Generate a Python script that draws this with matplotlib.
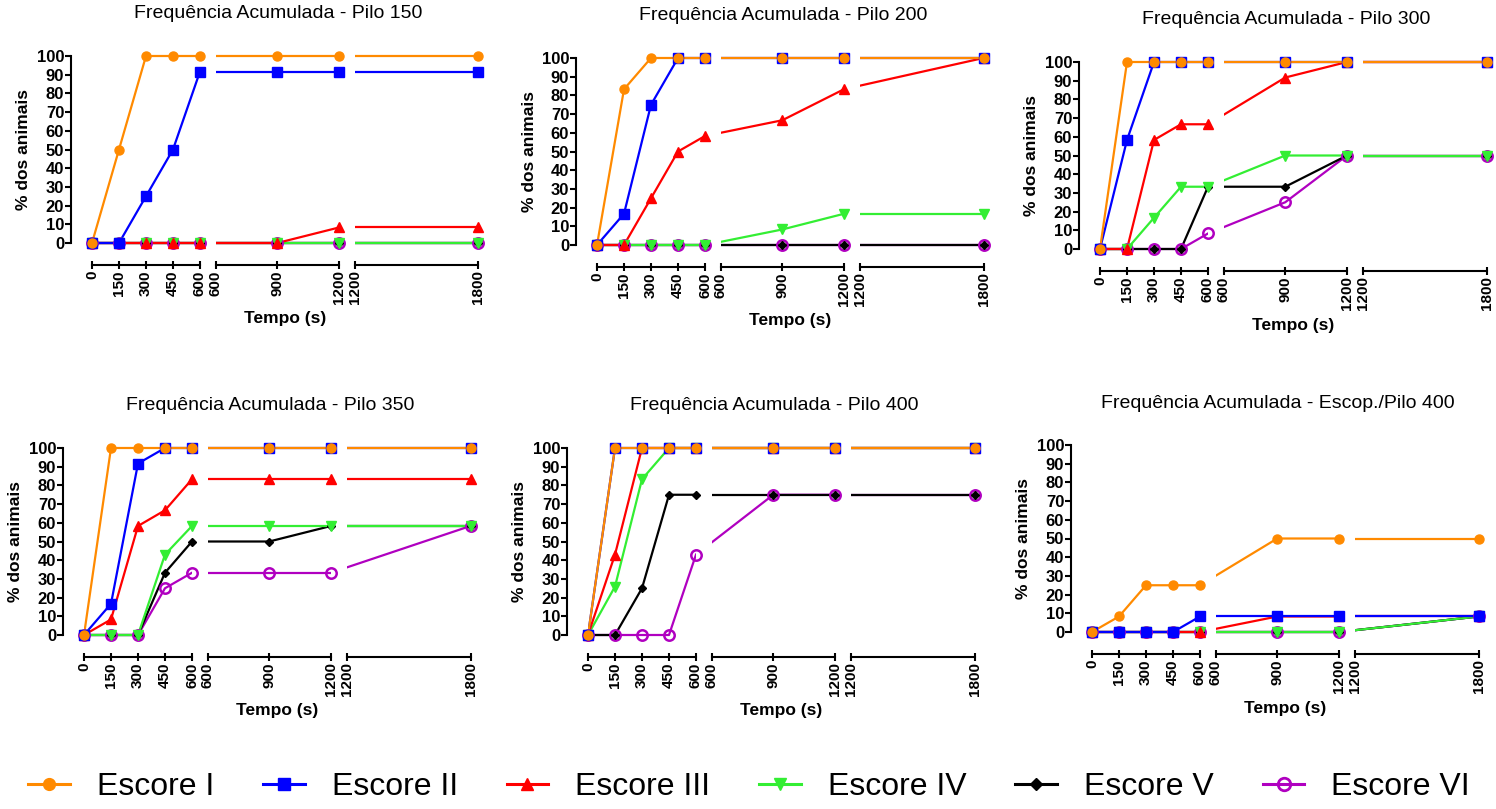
import matplotlib
matplotlib.use("Agg")
import matplotlib.pyplot as plt
from matplotlib.lines import Line2D

plt.rcParams['font.family'] = ['Liberation Sans', 'DejaVu Sans']

# time points (s)
tempo = [0, 150, 300, 450, 600, 900, 1200, 1800]

# % dos animais, one row per score (I..VI)
pilo150 = [
    [0, 50, 100, 100, 100, 100, 100, 100],
    [0, 0, 25, 50, 91.7, 91.7, 91.7, 91.7],
    [0, 0, 0, 0, 0, 0, 8.3, 8.3],
    [0, 0, 0, 0, 0, 0, 0, 0],
    [0, 0, 0, 0, 0, 0, 0, 0],
    [0, 0, 0, 0, 0, 0, 0, 0],
]
pilo200 = [
    [0, 83.3, 100, 100, 100, 100, 100, 100],
    [0, 16.7, 75, 100, 100, 100, 100, 100],
    [0, 0, 25, 50, 58.3, 66.7, 83.3, 100],
    [0, 0, 0, 0, 0, 8.3, 16.7, 16.7],
    [0, 0, 0, 0, 0, 0, 0, 0],
    [0, 0, 0, 0, 0, 0, 0, 0],
]
pilo300 = [
    [0, 100, 100, 100, 100, 100, 100, 100],
    [0, 58.3, 100, 100, 100, 100, 100, 100],
    [0, 0, 58.3, 66.7, 66.7, 91.7, 100, 100],
    [0, 0, 16.7, 33.3, 33.3, 50, 50, 50],
    [0, 0, 0, 0, 33.3, 33.3, 50, 50],
    [0, 0, 0, 0, 8.3, 25, 50, 50],
]
pilo350 = [
    [0, 100, 100, 100, 100, 100, 100, 100],
    [0, 16.7, 91.7, 100, 100, 100, 100, 100],
    [0, 8.3, 58.3, 66.7, 83.3, 83.3, 83.3, 83.3],
    [0, 0, 0, 43, 58.3, 58.3, 58.3, 58.3],
    [0, 0, 0, 33.3, 50, 50, 58.3, 58.3],
    [0, 0, 0, 25, 33.3, 33.3, 33.3, 58.3],
]
pilo400 = [
    [0, 100, 100, 100, 100, 100, 100, 100],
    [0, 100, 100, 100, 100, 100, 100, 100],
    [0, 43, 100, 100, 100, 100, 100, 100],
    [0, 25.9, 83.3, 100, 100, 100, 100, 100],
    [0, 0, 25, 75, 75, 75, 75, 75],
    [0, 0, 0, 0, 43, 75, 75, 75],
]
escop400 = [
    [0, 8.3, 25, 25, 25, 50, 50, 50],
    [0, 0, 0, 0, 8.3, 8.3, 8.3, 8.3],
    [0, 0, 0, 0, 0, 8.3, 8.3, 8.3],
    [0, 0, 0, 0, 0, 0, 0, 8.3],
    [0, 0, 0, 0, 0, 0, 0, 8.3],
    [0, 0, 0, 0, 0, 0, 0, 8.3],
]

titles = ["Frequência Acumulada - Pilo 150", "Frequência Acumulada - Pilo 200",
          "Frequência Acumulada - Pilo 300", "Frequência Acumulada - Pilo 350",
          "Frequência Acumulada - Pilo 400", "Frequência Acumulada - Escop./Pilo 400"]
panels = [pilo150, pilo200, pilo300, pilo350, pilo400, escop400]

series_names = ["Escore I", "Escore II", "Escore III", "Escore IV", "Escore V", "Escore VI"]
colors = ['#FF8A00', '#0000FF', '#FF0000', '#33EE33', '#000000', '#B000C0']
markers = ['o', 's', '^', 'v', 'D', 'o']
msizes = [6.5, 6.5, 6.5, 6.5, 4.5, 7.5]

segments = [(0, 600, [0, 150, 300, 450, 600]),
            (600, 1200, [600, 900, 1200]),
            (1200, 1800, [1200, 1800])]

# layout in pixels: x of data 0, y of 100 %
W, H = 1496, 809
origins = [(92, 56), (597, 58), (1100, 62), (84, 448), (588, 448), (1092, 445)]
seg_w = [108, 123.5, 124]
gap = 15.5
ppu = 1.87          # pixels per % unit
ypad = 4            # extra data units above/below so markers/lines are not clipped

fig = plt.figure(figsize=(W / 100, H / 100), dpi=100)


def add_px_axes(left, top, width, height):
    return fig.add_axes([left / W, 1 - (top + height) / H, width / W, height / H])


for p, (data, title) in enumerate(zip(panels, titles)):
    x0, y100 = origins[p]
    top = y100 - ypad * ppu
    height = (100 + 2 * ypad) * ppu
    left = x0
    axes = []
    for k, (lo, hi, ticks) in enumerate(segments):
        ax = add_px_axes(left, top, seg_w[k], height)
        left += seg_w[k] + gap
        ax.set_xlim(lo, hi)
        ax.set_ylim(-ypad, 100 + ypad)
        for s in ['top', 'right']:
            ax.spines[s].set_visible(False)
        ax.spines['bottom'].set_position(('outward', 10.5))
        ax.spines['bottom'].set_linewidth(1.5)
        ax.set_xticks(ticks)
        ax.set_xticklabels([str(t) for t in ticks], rotation=90, fontweight='bold', fontsize=11)
        ax.tick_params(axis='x', direction='inout', length=5.5, width=1.5, pad=1)
        if k == 0:
            ax.spines['left'].set_position(('outward', 15))
            ax.spines['left'].set_bounds(0, 100)
            ax.spines['left'].set_linewidth(1.5)
            ax.set_yticks(range(0, 101, 10))
            ax.set_yticklabels([str(v) for v in range(0, 101, 10)], fontweight='bold', fontsize=12)
            ax.tick_params(axis='y', direction='out', length=4, width=1.5, pad=1)
        else:
            ax.spines['left'].set_visible(False)
            ax.set_yticks([])
        ax.patch.set_visible(False)

        for i in range(5, -1, -1):
            vals = data[i]
            xs = [t for t in tempo if (lo <= t <= hi if k == 0 else lo < t <= hi)]
            ys = [vals[tempo.index(t)] for t in xs]
            lx, ly = list(xs), list(ys)
            if k > 0:
                # carry the line across the axis break from the previous segment
                yb = vals[tempo.index(lo)]
                disp = axes[k - 1].transData.transform((lo, yb))
                xb, _ = ax.transData.inverted().transform(disp)
                lx = [xb] + lx
                ly = [yb] + ly
            ax.plot(lx, ly, color=colors[i], lw=1.6, zorder=3 + (5 - i))
            mfc = 'none' if i == 5 else colors[i]
            ax.plot(xs, ys, ls='none', marker=markers[i], ms=msizes[i], color=colors[i],
                    mfc=mfc, mec=colors[i], mew=1.8 if i == 5 else 1,
                    clip_on=False, zorder=10 + (5 - i))
        axes.append(ax)

    x_end = x0 + sum(seg_w) + 2 * gap
    xc = (x0 + x_end) / 2
    fig.text((xc - 7) / W, 1 - (y100 - 42) / H, title, ha='center', va='center', fontsize=14)
    y0 = y100 + 100 * ppu
    fig.text(xc / W, 1 - (y0 + 76) / H, "Tempo (s)", ha='center', va='center',
             fontsize=12.5, fontweight='bold')
    fig.text((x0 - 68) / W, 1 - (y100 + 50 * ppu) / H, "% dos animais", ha='center', va='center',
             rotation=90, fontsize=12.5, fontweight='bold')

handles = []
for i in range(6):
    mfc = 'none' if i == 5 else colors[i]
    handles.append(Line2D([], [], color=colors[i], lw=2.2, marker=markers[i],
                          ms=[8.5, 8.5, 8.5, 8.5, 6, 9][i], mfc=mfc, mec=colors[i],
                          mew=2 if i == 5 else 1))
fig.legend(handles, series_names, loc='center', bbox_to_anchor=(749 / W, 1 - 787 / H),
           ncol=6, frameon=False, fontsize=23, handlelength=1.31, handletextpad=0.84,
           columnspacing=1.53)

fig.savefig("out.png", dpi=100)
